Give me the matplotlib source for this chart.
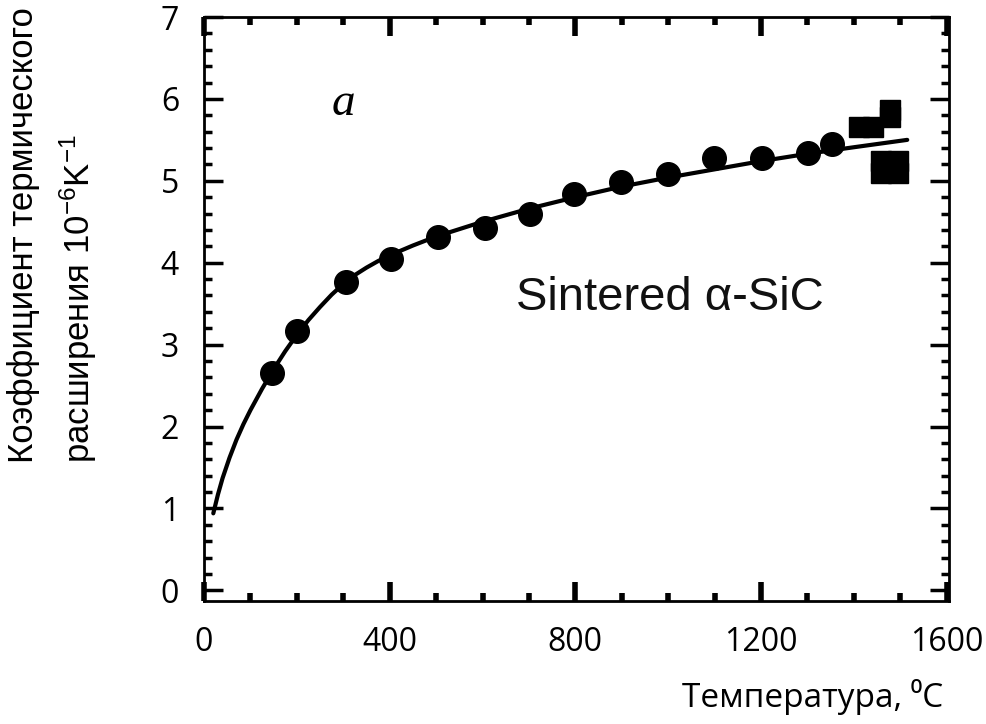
import matplotlib
matplotlib.use("Agg")
import matplotlib.pyplot as plt
from matplotlib.ticker import MultipleLocator

plt.rcParams["mathtext.fontset"] = "custom"
plt.rcParams["mathtext.rm"] = "Liberation Sans"
plt.rcParams["mathtext.it"] = "Liberation Sans:italic"

# measured points (circles)
temp_pts = [146, 200, 305, 402, 505, 606, 703, 798, 899, 1000, 1099, 1202, 1301, 1353]
cte_pts = [2.65, 3.17, 3.77, 4.05, 4.32, 4.43, 4.60, 4.84, 4.98, 5.08, 5.28, 5.28, 5.34, 5.45]

# high temperature points (squares)
temp_sq = [1411, 1441, 1477, 1477, 1458, 1495, 1458, 1495]
cte_sq = [5.66, 5.66, 5.87, 5.78, 5.24, 5.24, 5.09, 5.09]

# fitted curve
temp_fit = [20, 30, 40, 55, 70, 85, 100, 125, 150, 175, 200, 225, 250, 275, 300,
            325, 350, 375, 400, 450, 500, 600, 700, 800, 900, 1000, 1100, 1200,
            1300, 1400, 1515]
cte_fit = [0.94, 1.17, 1.37, 1.62, 1.84, 2.03, 2.20, 2.46, 2.70, 2.92, 3.12, 3.30,
           3.46, 3.61, 3.74, 3.85, 3.94, 4.02, 4.09, 4.21, 4.32, 4.50, 4.66, 4.80,
           4.93, 5.04, 5.14, 5.24, 5.33, 5.41, 5.50]

xticks = [0, 400, 800, 1200, 1600]
yticks = [0, 1, 2, 3, 4, 5, 6, 7]

fig = plt.figure(figsize=(9.87, 7.24), dpi=100)
ax = fig.add_axes([0.2067, 0.1699, 0.7548, 0.8066])

ax.plot(temp_fit, cte_fit, color="black", lw=3, solid_capstyle="round")
ax.plot(temp_pts, cte_pts, "o", color="black", ms=17)
ax.plot(temp_sq, cte_sq, "s", color="black", ms=14)

ax.set_xlim(0, 1605)
ax.set_ylim(-0.13, 7.0)
ax.set_xticks(xticks)
ax.set_yticks(yticks)
ax.xaxis.set_minor_locator(MultipleLocator(100))
ax.yaxis.set_minor_locator(MultipleLocator(0.2))

for s in ax.spines.values():
    s.set_linewidth(2)

tick_font = {"family": ["Open Sans", "DejaVu Sans"], "size": 23}
ax.set_xticklabels([str(v) for v in xticks], fontdict=tick_font)
ax.set_yticklabels([str(v) for v in yticks], fontdict=tick_font)

ax.tick_params(which="both", direction="in", top=True, right=True)
ax.tick_params(axis="x", which="major", length=14, width=4, pad=18)
ax.tick_params(axis="x", which="minor", length=6, width=4)
ax.tick_params(axis="y", which="major", length=14, width=2.5, pad=18)
ax.tick_params(axis="y", which="minor", length=6, width=2.5)

ax.text(301, 5.94, "a", fontsize=34, style="italic",
        family=["Liberation Serif"], ha="center", va="center")
ax.text(673, 3.57, "Sintered α-SiC", fontsize=34,
        family=["Liberation Sans", "DejaVu Sans"], ha="left", va="center", color="#111111")

fig.text(943 / 987, 1 - 707 / 724, "Температура, ⁰C", fontsize=24,
         family=["Open Sans", "DejaVu Sans"], ha="right", va="baseline")

fig.text(24 / 987, 1 - 463 / 724, "Коэффициент термического", rotation=90,
         fontsize=25, family=["Liberation Sans", "DejaVu Sans"], ha="center", va="bottom")
fig.text(78 / 987, 1 - 463 / 724, r"расширения 10$^{\mathdefault{-6}}$K$^{\mathdefault{-1}}$",
         rotation=90, fontsize=25, family=["Liberation Sans", "DejaVu Sans"],
         ha="center", va="bottom")

fig.savefig("out.png", dpi=100)
